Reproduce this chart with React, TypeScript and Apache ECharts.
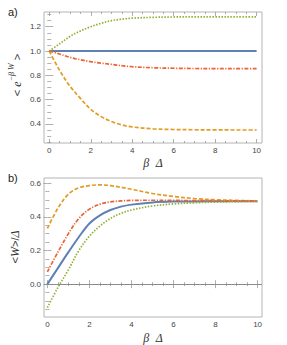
import React, { useEffect, useRef } from "react";
import * as echarts from "echarts";

const xs = [0, 0.5, 1, 1.5, 2, 2.5, 3, 3.5, 4, 5, 6, 7, 8, 9, 10];

// Panel a: <e^{-beta W}>
const aBlue = [1, 1, 1, 1, 1, 1, 1, 1, 1, 1, 1, 1, 1, 1, 1];
const aOrange = [1.0, 0.84, 0.71, 0.61, 0.52, 0.46, 0.42, 0.392, 0.375, 0.36, 0.354, 0.352, 0.351, 0.35, 0.35];
const aGreen = [1.0, 1.06, 1.12, 1.165, 1.2, 1.228, 1.25, 1.262, 1.27, 1.277, 1.28, 1.281, 1.281, 1.281, 1.281];
const aRed = [1.0, 0.975, 0.948, 0.928, 0.912, 0.9, 0.89, 0.879, 0.871, 0.862, 0.858, 0.856, 0.855, 0.855, 0.855];

// Panel b: <W>/Delta
const bBlue = [0, 0.095, 0.19, 0.28, 0.36, 0.408, 0.44, 0.46, 0.472, 0.485, 0.49, 0.491, 0.492, 0.492, 0.492];
const bOrange = [0.331, 0.45, 0.534, 0.572, 0.585, 0.589, 0.585, 0.575, 0.563, 0.538, 0.52, 0.508, 0.501, 0.497, 0.494];
const bGreen = [-0.139, -0.02, 0.085, 0.2, 0.285, 0.345, 0.39, 0.42, 0.44, 0.464, 0.476, 0.483, 0.487, 0.49, 0.491];
const bRed = [0.073, 0.19, 0.3, 0.39, 0.445, 0.475, 0.488, 0.494, 0.497, 0.498, 0.497, 0.496, 0.495, 0.494, 0.494];

const xMajor = [0, 2, 4, 6, 8, 10];
const xMinor = [0.5, 1, 1.5, 2.5, 3, 3.5, 4.5, 5, 5.5, 6.5, 7, 7.5, 8.5, 9, 9.5];
const aYMajor = [0.4, 0.6, 0.8, 1.0, 1.2];
const aYMinor = [0.25, 0.3, 0.35, 0.45, 0.5, 0.55, 0.65, 0.7, 0.75, 0.85, 0.9, 0.95, 1.05, 1.1, 1.15, 1.25, 1.3];
const bYMajor = [0.0, 0.2, 0.4, 0.6];
const bYMinor = [-0.15, -0.1, -0.05, 0.05, 0.1, 0.15, 0.25, 0.3, 0.35, 0.45, 0.5, 0.55];

const C_BLUE = "#5E81B5";
const C_ORANGE = "#E19C24";
const C_GREEN = "#8FB032";
const C_RED = "#EB6235";

const AX = "#9a9a9a";
const LBL = "#444";
const FONT = "Liberation Sans, Arial, sans-serif";
const SERIF = "Liberation Serif, serif";

function axesFor(kind: "x" | "y", grid: number, min: number, max: number, major: number[], minor: number[], fmt: (v: number) => string) {
  const positions = kind === "x" ? ["bottom", "top"] : ["left", "right"];
  const out: any[] = [];
  positions.forEach((pos, pi) => {
    [true, false].forEach((isMajor) => {
      out.push({
        type: "value",
        gridIndex: grid,
        position: pos,
        min,
        max,
        axisLine: { show: false },
        splitLine: { show: false },
        axisTick: {
          show: true,
          inside: true,
          length: isMajor ? 4 : 2,
          customValues: isMajor ? major : minor,
          lineStyle: { color: AX, width: 0.8 },
        },
        axisLabel: {
          show: isMajor && pi === 0,
          customValues: major,
          formatter: (v: number) => fmt(v),
          color: LBL,
          fontSize: 8,
          fontFamily: FONT,
          margin: 3,
        },
      });
    });
  });
  return out;
}

function lineSeries(name: string, xi: number, yi: number, vals: number[], color: string, type: any, width: number) {
  return {
    name,
    type: "line",
    xAxisIndex: xi,
    yAxisIndex: yi,
    data: xs.map((x, i) => [x, vals[i]]),
    showSymbol: false,
    smooth: 0.35,
    lineStyle: { color, width, type },
    itemStyle: { color },
  };
}

export default function App() {
  const ref = useRef<HTMLDivElement>(null);
  useEffect(() => {
    if (!ref.current) return;
    const chart = echarts.init(ref.current, undefined, { renderer: "svg" });
    const fx = (v: number) => String(Math.round(v));
    const fy = (v: number) => v.toFixed(1);
    const xAxes = [
      ...axesFor("x", 0, -0.255, 10.26, xMajor, xMinor, fx),
      ...axesFor("x", 1, -0.16, 10.21, xMajor, xMinor, fx),
    ];
    const yAxes = [
      ...axesFor("y", 0, 0.243, 1.321, aYMajor, aYMinor, fy),
      ...axesFor("y", 1, -0.195, 0.63, bYMajor, bYMinor, fy),
    ];
    const dashed = [4, 2];
    const dotted = [1.5, 1.5];
    const dashdot = [4, 1.5, 1.2, 1.5];
    const series: any[] = [
      lineSeries("a-blue", 0, 0, aBlue, C_BLUE, "solid", 2),
      lineSeries("a-orange", 0, 0, aOrange, C_ORANGE, dashed, 1.7),
      lineSeries("a-green", 0, 0, aGreen, C_GREEN, dotted, 1.7),
      lineSeries("a-red", 0, 0, aRed, C_RED, dashdot, 1.7),
      {
        ...lineSeries("b-blue", 4, 4, bBlue, C_BLUE, "solid", 2),
        markLine: {
          silent: true,
          symbol: "none",
          label: { show: false },
          lineStyle: { color: "#8c8c8c", width: 1, type: "solid" },
          data: [{ yAxis: 0 }],
        },
      },
      lineSeries("b-orange", 4, 4, bOrange, C_ORANGE, dashed, 1.7),
      lineSeries("b-green", 4, 4, bGreen, C_GREEN, dotted, 1.7),
      lineSeries("b-red", 4, 4, bRed, C_RED, dashdot, 1.7),
    ];
    const xTitle = (y: number) => ({
      type: "text",
      x: 153,
      y,
      style: {
        text: "{i|β}  {i|Δ}",
        align: "center",
        verticalAlign: "middle",
        rich: { i: { fontSize: 12, fontStyle: "italic", fontFamily: SERIF, fill: "#333" } },
      },
    });
    chart.setOption({
      animation: false,
      backgroundColor: "#ffffff",
      grid: [
        { left: 44, top: 12, width: 218, height: 131, show: true, borderColor: "#b4b4b4", borderWidth: 1, backgroundColor: "transparent" },
        { left: 44, top: 178, width: 218, height: 139, show: true, borderColor: "#b4b4b4", borderWidth: 1, backgroundColor: "transparent" },
      ],
      xAxis: xAxes,
      yAxis: yAxes,
      series,
      graphic: [
        { type: "text", left: 8, top: 6, style: { text: "a)", fontSize: 11, fontFamily: FONT, fill: "#222" } },
        { type: "text", left: 8, top: 172, style: { text: "b)", fontSize: 11, fontFamily: FONT, fill: "#222" } },
        xTitle(163),
        xTitle(338),
        {
          type: "text",
          x: 15,
          y: 75,
          rotation: Math.PI / 2,
          style: {
            text: "{n|< }{e|e}{s|−β W}{n| >}",
            align: "center",
            verticalAlign: "middle",
            fill: "#333",
            rich: {
              n: { fontSize: 11, fontFamily: FONT, fill: "#333", lineHeight: 15, verticalAlign: "bottom" },
              e: { fontSize: 12, fontStyle: "italic", fontFamily: SERIF, fill: "#333", lineHeight: 15, verticalAlign: "bottom" },
              s: { fontSize: 8, fontStyle: "italic", fontFamily: SERIF, fill: "#333", lineHeight: 15, verticalAlign: "top" },
            },
          },
        },
        {
          type: "text",
          x: 15,
          y: 247,
          rotation: Math.PI / 2,
          style: {
            text: "{n|<}{i|W}{n|>/}{i|Δ}",
            align: "center",
            verticalAlign: "middle",
            fill: "#333",
            rich: {
              n: { fontSize: 11, fontFamily: FONT, fill: "#333" },
              i: { fontSize: 12, fontStyle: "italic", fontFamily: SERIF, fill: "#333" },
            },
          },
        },
      ],
    });
    return () => chart.dispose();
  }, []);
  return <div ref={ref} style={{ width: 287, height: 345, position: "absolute", left: 0, top: 0 }} />;
}
